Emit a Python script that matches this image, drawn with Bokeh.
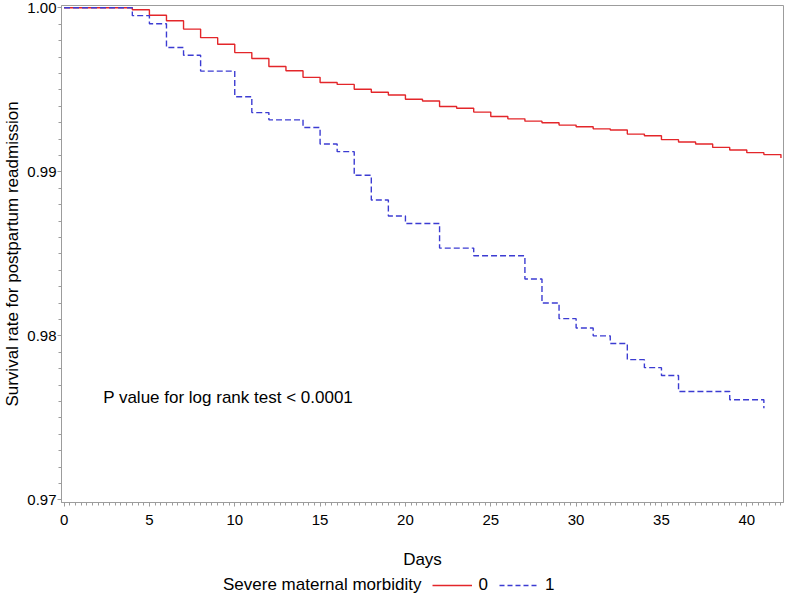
from bokeh.plotting import figure
from bokeh.layouts import column
from bokeh.models import (Range1d, FixedTicker, NumeralTickFormatter, Legend,
                          LegendItem, Label)
from bokeh.embed import file_html
from bokeh.resources import INLINE

# ---- data ----
days_0 = [0, 4, 5, 6, 7, 8, 9, 10, 11, 12, 13, 14, 15, 16, 17, 18, 19, 20, 21,
          22, 23, 24, 25, 26, 27, 28, 29, 30, 31, 32, 33, 34, 35, 36, 37, 38,
          39, 40, 41, 42]
surv_0 = [1.0, 0.99988, 0.99955, 0.99921, 0.99870, 0.99818, 0.99778, 0.99727,
          0.99691, 0.99642, 0.99616, 0.99576, 0.99545, 0.99533, 0.99503,
          0.99485, 0.99468, 0.99442, 0.99432, 0.99398, 0.99388, 0.99364,
          0.99337, 0.99323, 0.99309, 0.99299, 0.99285, 0.99275, 0.99262,
          0.99255, 0.99230, 0.99220, 0.99196, 0.99182, 0.99170, 0.99149,
          0.99133, 0.99117, 0.99105, 0.99085]

days_1 = [0, 4, 5, 6, 7, 8, 10, 11, 12, 14, 15, 16, 17, 18, 19, 20, 22, 24,
          27, 28, 29, 30, 31, 32, 33, 34, 35, 36, 39, 41]
surv_1 = [1.0, 0.99952, 0.99903, 0.99758, 0.99711, 0.99614, 0.99458, 0.99361,
          0.99317, 0.99270, 0.99170, 0.99123, 0.98979, 0.98828, 0.98731,
          0.98685, 0.98535, 0.98488, 0.98347, 0.98200, 0.98105, 0.98048,
          0.98000, 0.97953, 0.97855, 0.97806, 0.97758, 0.97661, 0.97610,
          0.97559]

x_major = [0, 5, 10, 15, 20, 25, 30, 35, 40]
y_major = [0.97, 0.98, 0.99, 1.00]
group_labels = ["0", "1"]
legend_title = "Severe maternal morbidity"
x_title = "Days"
y_title = "Survival rate for postpartum readmission"
p_text = "P value for log rank test < 0.0001"
p_text_pos = (2.29, 0.97626)

FONT = "Liberation Sans"
RED = "#E3262A"
BLUE = "#3C3CD2"
GRAY = "#9C9C9C"

p = figure(frame_width=722, frame_height=497, output_backend="svg",
           toolbar_location=None,
           x_range=Range1d(-0.15, 42.15), y_range=Range1d(0.96984, 1.00014),
           min_border_left=10, min_border_right=2, min_border_top=5,
           min_border_bottom=0)
p.grid.visible = False
p.outline_line_color = GRAY
p.outline_line_width = 1
p.background_fill_color = "white"

p.step(days_0, surv_0, mode="after", line_color=RED, line_width=1.4)
p.step(days_1, surv_1, mode="after", line_color=BLUE, line_width=1.4,
       line_dash="6 3")

# axes
p.xaxis.ticker = FixedTicker(ticks=x_major,
                             minor_ticks=[round(i / 3, 4) for i in range(0, 127)])
p.yaxis.ticker = FixedTicker(ticks=y_major,
                             minor_ticks=[round(0.97 + i * 0.001, 4) for i in range(0, 31)])
p.yaxis.formatter = NumeralTickFormatter(format="0.00")
p.xaxis.axis_label = x_title
p.yaxis.axis_label = y_title
for ax in (p.xaxis, p.yaxis):
    ax.axis_line_color = GRAY
    ax.major_tick_line_color = GRAY
    ax.minor_tick_line_color = GRAY
    ax.major_tick_out = 4
    ax.major_tick_in = 0
    ax.minor_tick_out = 3
    ax.minor_tick_in = 0
    ax.major_label_text_font = FONT
    ax.major_label_text_font_size = "15px"
    ax.major_label_text_color = "black"
    ax.axis_label_text_font = FONT
    ax.axis_label_text_font_size = "17px"
    ax.axis_label_text_font_style = "normal"
    ax.axis_label_text_color = "black"
p.yaxis.major_label_standoff = 1
p.yaxis.axis_label_standoff = 2
p.xaxis.major_label_standoff = 8
p.xaxis.axis_label_standoff = 22

p.add_layout(Label(x=p_text_pos[0], y=p_text_pos[1], text=p_text,
                   text_font=FONT, text_font_size="17px",
                   text_baseline="middle", text_color="black"))

# ---- legend strip (separate small figure below the plot) ----
lf = figure(width=785, height=24, output_backend="svg", toolbar_location=None,
            x_range=Range1d(0, 1), y_range=Range1d(0, 1),
            x_axis_location=None, y_axis_location=None,
            min_border=0, outline_line_color=None)
lf.grid.visible = False
# off-range samples: they only supply the legend's line styles
d_title = lf.line([-5, -4], [-5, -5], line_alpha=0)
d0 = lf.line([-5, -4], [-5, -5], line_color=RED, line_width=1.4)
d1 = lf.line([-5, -4], [-5, -5], line_color=BLUE, line_width=1.4,
             line_dash="5 3")

legend = Legend(items=[LegendItem(label=legend_title, renderers=[d_title]),
                       LegendItem(label=group_labels[0], renderers=[d0]),
                       LegendItem(label=group_labels[1], renderers=[d1])],
                orientation="horizontal", location=(116, 0),
                border_line_alpha=0, background_fill_alpha=0,
                glyph_width=40, glyph_height=18, label_standoff=6, spacing=11,
                padding=0, margin=0, label_height=18, label_width=0,
                label_text_font=FONT,
                label_text_font_size="17px", label_text_color="black")
lf.add_layout(legend, "center")

layout = column(p, lf, spacing=0)
open("out.html", "w").write(file_html(layout, INLINE))
